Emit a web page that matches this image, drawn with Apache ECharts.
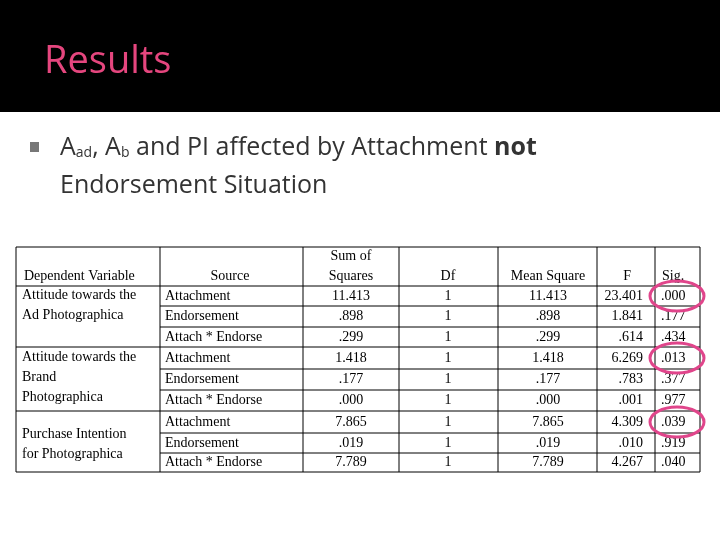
<!DOCTYPE html>
<html><head><meta charset="utf-8">
<script src="https://cdn.jsdelivr.net/npm/echarts@6/dist/echarts.min.js"></script>
<style>html,body{margin:0;padding:0;background:#fff}#main{width:720px;height:540px}</style>
</head><body><div id="main"></div>
<script>
// table contents
const headers = ['Dependent Variable', 'Source', 'Sum of\nSquares', 'Df', 'Mean Square', 'F', 'Sig.'];
const groups = ['Attitude towards the\nAd Photographica', 'Attitude towards the\nBrand\nPhotographica', 'Purchase Intention\nfor Photographica'];
const sources = ['Attachment', 'Endorsement', 'Attach * Endorse'];
const sumSq = ['11.413', '.898', '.299', '1.418', '.177', '.000', '7.865', '.019', '7.789'];
const df = ['1', '1', '1', '1', '1', '1', '1', '1', '1'];
const meanSq = ['11.413', '.898', '.299', '1.418', '.177', '.000', '7.865', '.019', '7.789'];
const fVals = ['23.401', '1.841', '.614', '6.269', '.783', '.001', '4.309', '.010', '4.267'];
const sig = ['.000', '.177', '.434', '.013', '.377', '.977', '.039', '.919', '.040'];
const circled = [0, 3, 6];

const colX = [16, 160, 303, 399, 498, 597, 655, 700];
const rowY = [247, 286, 306, 327, 347, 369, 390, 411, 433, 453, 472];
const serif = 'Liberation Serif';
const els = [];

els.push({ type: 'rect', shape: { x: 0, y: 0, width: 720, height: 112 }, style: { fill: '#000' } });
els.push({ type: 'text', x: 44, y: 62, style: { text: 'Results', fill: '#e5467e', font: '38px "Open Sans"', textVerticalAlign: 'middle' } });
els.push({ type: 'rect', shape: { x: 30, y: 142, width: 9, height: 10 }, style: { fill: '#777' } });
els.push({ type: 'text', x: 60, y: 148, style: {
  text: '{b|A}{s|ad}{b|, A}{s|b}{b| and PI affected by Attachment }{bb|not}', textVerticalAlign: 'middle',
  rich: { b: { font: '25px "Open Sans"', fill: '#333' }, bb: { font: 'bold 25px "Open Sans"', fill: '#333' }, s: { font: '14px "Open Sans"', fill: '#333', padding: [10, 0, 0, 0] } } } });
els.push({ type: 'text', x: 60, y: 186, style: { text: 'Endorsement Situation', fill: '#333', font: '25px "Open Sans"', textVerticalAlign: 'middle' } });

// table borders
els.push({ type: 'rect', shape: { x: colX[0], y: rowY[0], width: colX[7] - colX[0], height: rowY[10] - rowY[0] }, style: { fill: 'none', stroke: '#000', lineWidth: 1 } });
colX.slice(1, 7).forEach(x => els.push({ type: 'line', shape: { x1: x, y1: rowY[0], x2: x, y2: rowY[10] }, style: { stroke: '#000' } }));
rowY.slice(1, 10).forEach((y, i) => {
  const full = i === 0 || i === 3 || i === 6;
  els.push({ type: 'line', shape: { x1: full ? colX[0] : colX[1], y1: y, x2: colX[7], y2: y }, style: { stroke: '#000' } });
});

const txt = (s, x, y, align, va) => els.push({ type: 'text', x, y, style: { text: s, fill: '#000', font: '14px "' + serif + '"', align, verticalAlign: va || 'middle', lineHeight: 20 } });

// header
txt(headers[0], 24, 276, 'left');
txt(headers[1], 230, 276, 'center');
txt(headers[2], 351, 266, 'center');
txt(headers[3], 448, 276, 'center');
txt(headers[4], 548, 276, 'center');
txt(headers[5], 631, 276, 'right');
txt(headers[6], 662, 276, 'left');

groups.forEach((g, gi) => {
  const top = rowY[1 + gi * 3];
  txt(g, 22, gi === 0 ? top + 19 : gi === 1 ? top + 30 : top + 33, 'left');
});
for (let i = 0; i < 9; i++) {
  const cy = (rowY[i + 1] + rowY[i + 2]) / 2;
  txt(sources[i % 3], 165, cy, 'left');
  txt(sumSq[i], 351, cy, 'center');
  txt(df[i], 448, cy, 'center');
  txt(meanSq[i], 548, cy, 'center');
  txt(fVals[i], 643, cy, 'right');
  txt(sig[i], 661, cy, 'left');
}
circled.forEach(i => {
  const cy = (rowY[i + 1] + rowY[i + 2]) / 2;
  els.push({ type: 'ellipse', shape: { cx: 677, cy, rx: 27, ry: 15 }, style: { fill: 'none', stroke: '#e0458b', lineWidth: 3 } });
});

const chart = echarts.init(document.getElementById('main'));
chart.setOption({ animation: false, graphic: { elements: els } });
</script>
</body></html>
